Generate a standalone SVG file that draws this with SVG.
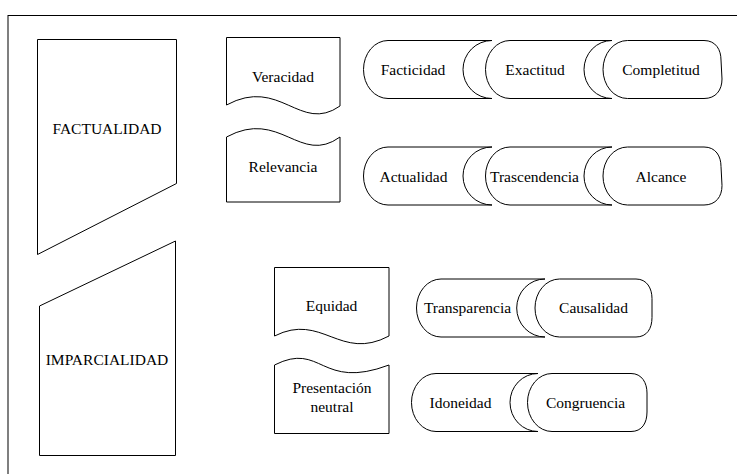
<svg xmlns="http://www.w3.org/2000/svg" width="737" height="474" viewBox="0 0 737 474">
<style>
.s{fill:#fff;stroke:#000;stroke-width:1}
.t{font-family:"Liberation Serif","Times New Roman",serif;font-size:15.5px;fill:#000;text-anchor:middle}
</style>
<rect x="0" y="0" width="737" height="474" fill="#fff"/>
<rect id="frame" x="8" y="15.5" width="740" height="470" fill="none" stroke="#000" stroke-width="1"/>
<g id="factualidad"><path class="s" d="M37.5 39.5 L176.5 39.5 L176.5 183.5 L37.5 254.5 Z"/><text class="t" x="107" y="134">FACTUALIDAD</text></g>
<g id="imparcialidad"><path class="s" d="M39.5 306 L175.5 241 L175.5 455.5 L39.5 455.5 Z"/><text class="t" x="107" y="365">IMPARCIALIDAD</text></g>
<g id="veracidad"><path class="s" d="M226.5 105 L226.5 37.5 L340 37.5 L340 106 C300 134 280 76 226.5 105 Z"/><text class="t" x="283" y="81.5">Veracidad</text></g>
<g id="relevancia"><path class="s" d="M226.5 137 C280 108 300 166 340 137 L340 202 L226.5 202 Z"/><text class="t" x="283" y="171.5">Relevancia</text></g>
<g id="equidad"><path class="s" d="M274.5 336 L274.5 267.5 L389 267.5 L389 336 C340 362 322 312 274.5 336 Z"/><text class="t" x="331.5" y="310.5">Equidad</text></g>
<g id="presentacion"><path class="s" d="M274.5 365 C322 341 320 391 389 365 L389 433.5 L274.5 433.5 Z"/><text class="t" x="332" y="393">Presentación</text><text class="t" x="332" y="411.5">neutral</text></g>
<g id="facticidad"><path class="s" d="M388 40.5 L492 40.5 A29 29 0 0 0 492 98.5 L388 98.5 A24.5 29 0 0 1 388 40.5 Z"/><text class="t" x="413" y="75">Facticidad</text></g>
<g id="exactitud"><path class="s" d="M510 40.5 L612 40.5 A28 29 0 0 0 612 98.5 L510 98.5 A24.5 29 0 0 1 510 40.5 Z"/><text class="t" x="535" y="75">Exactitud</text></g>
<g id="completitud"><path class="s" d="M627.5 40.5 L704 40.5 C716 40.5 721 50 721 60 L722 79 C722 90 716 98.5 704 98.5 L627.5 98.5 A24.5 29 0 0 1 627.5 40.5 Z"/><text class="t" x="661" y="75">Completitud</text></g>
<g id="actualidad"><path class="s" d="M388 147 L492 147 A29 29 0 0 0 492 205 L388 205 A24.5 29 0 0 1 388 147 Z"/><text class="t" x="413.5" y="181.5">Actualidad</text></g>
<g id="trascendencia"><path class="s" d="M510 147 L612 147 A28 29 0 0 0 612 205 L510 205 A24.5 29 0 0 1 510 147 Z"/><text class="t" x="534.5" y="181.5">Trascendencia</text></g>
<g id="alcance"><path class="s" d="M627.5 147 L704 147 C716 147 721 156.5 721 166.5 L722 185.5 C722 196.5 716 205 704 205 L627.5 205 A24.5 29 0 0 1 627.5 147 Z"/><text class="t" x="661" y="181.5">Alcance</text></g>
<g id="transparencia"><path class="s" d="M441 279 L545 279 A28.3 29 0 0 0 545 337 L441 337 A24.5 29 0 0 1 441 279 Z"/><text class="t" x="467.5" y="313">Transparencia</text></g>
<g id="causalidad"><path class="s" d="M559.5 279 L636 279 C647 279 652 288.5 652 298.5 L652 317.5 C652 328.5 647 337 636 337 L559.5 337 A24.5 29 0 0 1 559.5 279 Z"/><text class="t" x="593.5" y="313">Causalidad</text></g>
<g id="idoneidad"><path class="s" d="M436 373.5 L538 373.5 A28 29 0 0 0 538 431.5 L436 431.5 A24.5 29 0 0 1 436 373.5 Z"/><text class="t" x="460.5" y="408">Idoneidad</text></g>
<g id="congruencia"><path class="s" d="M552 373.5 L631 373.5 C642 373.5 647 383 647 393 L647 412 C647 423 642 431.5 631 431.5 L552 431.5 A24.5 29 0 0 1 552 373.5 Z"/><text class="t" x="585.5" y="408">Congruencia</text></g>
<g id="connectors"></g>
</svg>
